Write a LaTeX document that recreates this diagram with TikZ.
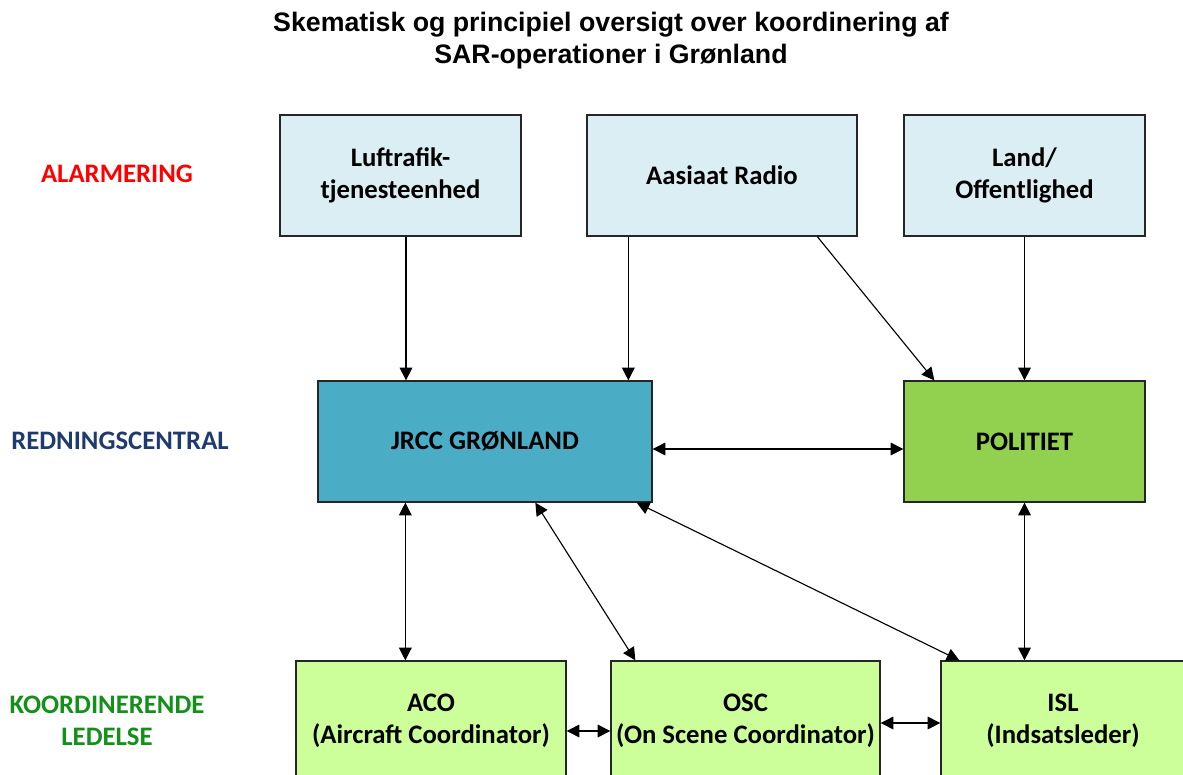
\documentclass[tikz,border=0pt]{standalone}
\usepackage{fontspec}
\setmainfont{Carlito}
\newfontfamily\titlefont{Liberation Sans}
\usepackage{xcolor}
\usetikzlibrary{calc,arrows.meta}
\definecolor{alarmblue}{HTML}{DAEEF3}
\definecolor{jrcccolor}{HTML}{4BACC6}
\definecolor{policecolor}{HTML}{92D050}
\definecolor{leadgreen}{HTML}{CCFF99}
\definecolor{alarmred}{HTML}{FF0000}
\definecolor{centralnavy}{HTML}{1F3A6E}
\definecolor{coordgreen}{HTML}{129018}

\tikzset{
  unitbox/.style={draw=black!85, line width=0.9pt, rectangle, align=center,
    font=\fontsize{19pt}{23pt}\selectfont\bfseries},
  alarmbox/.style={unitbox, fill=alarmblue, minimum height=3.025cm},
  centralbox/.style={unitbox, minimum height=3.025cm},
  leadbox/.style={unitbox, fill=leadgreen, minimum height=3cm, minimum width=6.75cm},
  levellabel/.style={align=center, font=\fontsize{19pt}{23pt}\selectfont\bfseries},
  link/.style={line width=0.8pt, -{Triangle[length=9pt,width=9pt]}},
  dlink/.style={line width=0.8pt, {Triangle[length=9pt,width=9pt]}-{Triangle[length=9pt,width=9pt]}}
}

\begin{document}
\begin{tikzpicture}[x=0.025cm, y=-0.025cm]%
\useasboundingbox (0,0) rectangle (1183,775);%
% title
\node[align=center, font=\titlefont\fontsize{19pt}{22.8pt}\selectfont\bfseries] (title) at (611,41) {Skematisk og principiel oversigt over koordinering af\\SAR-operationer i Grønland};%
% level labels
\node[levellabel, text=alarmred] (lvlalarm) at (117,174) {ALARMERING};%
\node[levellabel, text=centralnavy] (lvlcentral) at (120,441) {REDNINGSCENTRAL};%
\node[levellabel, text=coordgreen] (lvlcoord) at (107,721) {KOORDINERENDE\\LEDELSE};%
% alarm level
\node[alarmbox, minimum width=6.025cm] (luft) at (400.5,175.5) {Luftrafik-\\tjenesteenhed};%
\node[alarmbox, minimum width=6.75cm] (aas) at (722,175.5) {Aasiaat Radio};%
\node[alarmbox, minimum width=6.025cm] (land) at (1024.5,175.5) {Land/\\Offentlighed};%
% rescue centre level
\node[centralbox, fill=jrcccolor, minimum width=8.35cm] (jrcc) at (485,441.5) {JRCC GRØNLAND};%
\node[centralbox, fill=policecolor, minimum width=6.025cm] (pol) at (1024.5,441.5) {POLITIET};%
% coordinating level
\node[leadbox] (aco) at (431,721) {ACO\\(Aircraft Coordinator)};%
\node[leadbox, minimum width=6.725cm] (osc) at (745.5,721) {OSC\\(On Scene Coordinator)};%
\node[leadbox, minimum width=6.1cm] (isl) at (1063,721) {ISL\\(Indsatsleder)};%
% arrow ends
\coordinate (luftout) at ($(luft.south)+(5.5,0)$);%
\coordinate (aasout) at ($(aas.south west)+(42,0)$);%
\coordinate (aaspol) at ($(aas.south west)+(231,0)$);%
\coordinate (polin) at ($(pol.north west)+(31,0)$);%
\coordinate (jrccright) at ($(jrcc.east)+(0,7.5)$);%
\coordinate (jrccaco) at ($(jrcc.south west)+(88,0)$);%
\coordinate (jrccosc) at ($(jrcc.south west)+(218,0)$);%
\coordinate (oscin) at ($(osc.north west)+(25,0)$);%
\coordinate (jrccisl) at ($(jrcc.south east)+(-16,0)$);%
\coordinate (islin) at ($(isl.north west)+(19,0)$);%
\coordinate (acoright) at ($(aco.east)+(0,10)$);%
\coordinate (oscright) at ($(osc.east)+(0,2)$);%
% alarm arrows
\draw[link] (luftout) -- (luftout |- jrcc.north);%
\draw[link] (aasout) -- (aasout |- jrcc.north);%
\draw[link] (aaspol) -- (polin);%
\draw[link] (land.south) -- (pol.north);%
% coordination arrows
\draw[dlink] (jrccright) -- (jrccright -| pol.west);%
\draw[dlink] (jrccaco) -- (jrccaco |- aco.north);%
\draw[dlink] (jrccosc) -- (oscin);%
\draw[dlink] (jrccisl) -- (islin);%
\draw[dlink] (pol.south) -- (pol.south |- isl.north);%
\draw[dlink] (acoright) -- (acoright -| osc.west);%
\draw[dlink] (oscright) -- (oscright -| isl.west);%
\end{tikzpicture}
\end{document}
